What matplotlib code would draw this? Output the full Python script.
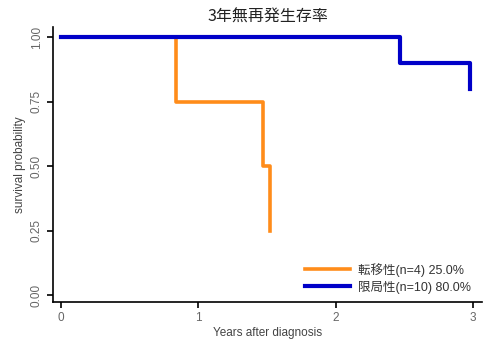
import matplotlib.pyplot as plt

plt.rcParams['font.family'] = ['Liberation Sans', 'Noto Sans CJK JP']

# Kaplan-Meier style step data
meta_t = [0, 0.84, 1.47, 1.52]
meta_s = [1.0, 0.75, 0.50, 0.25]
local_t = [0, 2.47, 2.98]
local_s = [1.0, 0.90, 0.80]
labels = ['転移性(n=4) 25.0%', '限局性(n=10) 80.0%']
yticks = [0, 0.25, 0.5, 0.75, 1.0]
xticks = [0, 1, 2, 3]

W, H = 486, 343
fig = plt.figure(figsize=(W / 100, H / 100), dpi=100)
ax = fig.add_axes([53 / W, (H - 302) / H, (482 - 53) / W, (302 - 27) / H])

ax.step(meta_t, meta_s, where='post', color='#FF8C1A', lw=2.6, label=labels[0])
ax.step(local_t, local_s, where='post', color='#0000C8', lw=3.0, label=labels[1])

ax.set_xlim(-0.0583, 3.066)
ax.set_ylim(-0.0271, 1.039)
ax.set_xticks(xticks)
ax.set_yticks(yticks)
ax.set_yticklabels(['0.00', '0.25', '0.50', '0.75', '1.00'], rotation=90, va='center')
ax.tick_params(direction='out', length=4, width=1.2, labelsize=8.5, labelcolor='#666666')
for s in ['top', 'right']:
    ax.spines[s].set_visible(False)
for s in ['left', 'bottom']:
    ax.spines[s].set_linewidth(1.2)

ax.set_xlabel('Years after diagnosis', fontsize=8.5, color='#444444', labelpad=2)
ax.set_ylabel('survival probability', fontsize=8.5, color='#444444', labelpad=3)
fig.text(268 / W, 1 - 17 / H, '3年無再発生存率', ha='center', va='center',
         fontsize=11.5, fontfamily='Noto Sans CJK JP', fontweight='normal', color='#222222')

leg = ax.legend(loc='lower right', bbox_to_anchor=(1.0, -0.01), frameon=False,
                fontsize=9, handlelength=3.6, handletextpad=0.6, labelspacing=0.3,
                labelcolor='#333333')

fig.savefig('out.png', dpi=100)
